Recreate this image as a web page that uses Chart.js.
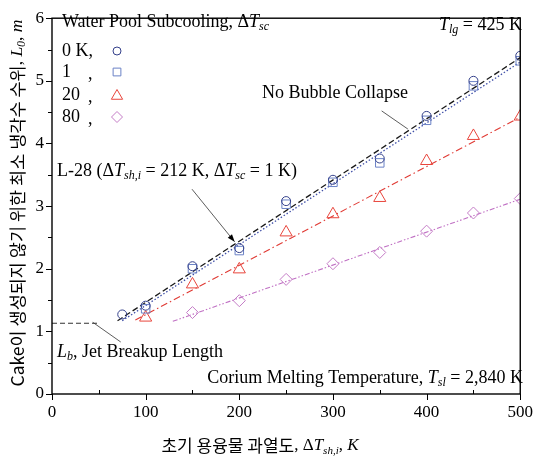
<!DOCTYPE html>
<html>
<head>
<meta charset="utf-8">
<script src="https://cdn.jsdelivr.net/npm/chart.js@4.4.0/dist/chart.umd.min.js"></script>
<style>
  html, body { margin: 0; padding: 0; background: #fff; }
  #wrap { width: 541px; height: 466px; }
</style>
</head>
<body>
<div id="wrap"><canvas id="c" width="541" height="466"></canvas></div>
<script>
const x0K = [75, 100, 150, 200, 250, 300, 350, 400, 450, 500];
const y0K = [1.27, 1.41, 2.04, 2.33, 3.08, 3.42, 3.76, 4.44, 5.00, 5.40];
const x1K = [100, 150, 200, 250, 300, 350, 400, 450, 500];
const y1K = [1.36, 2.00, 2.29, 3.03, 3.38, 3.69, 4.37, 4.92, 5.32];
const x20K = [100, 150, 200, 250, 300, 350, 400, 450, 500];
const y20K = [1.22, 1.75, 1.99, 2.58, 2.87, 3.13, 3.72, 4.12, 4.43];
const x80K = [150, 200, 250, 300, 350, 400, 450, 500];
const y80K = [1.30, 1.49, 1.83, 2.08, 2.26, 2.60, 2.89, 3.12];

// fitted lines (end points)
const fit0KX = [70, 500], fit0KY = [1.17, 5.37];
const fit1KX = [75, 500], fit1KY = [1.17, 5.30];
const fit20KX = [89, 500], fit20KY = [1.18, 4.42];
const fit80KX = [129, 500], fit80KY = [1.16, 3.11];
const breakupX = [0, 50], breakupY = [1.13, 1.13];

// L-28 case marker
const l28X = [195], l28Y = [2.43];

const legendLabels = ['0 K,', '1', '20', '80'];
const xTicks = [0, 100, 200, 300, 400, 500];
const yTicks = [0, 1, 2, 3, 4, 5, 6];

const colors = { c0: '#34408a', c1: '#6b82c6', c20: '#e8453c', c80: '#c47cc6' };

const pts = (xs, ys) => xs.map((x, i) => ({ x: x, y: ys[i] }));

const serif = '"Liberation Serif", "Times New Roman", serif';
const kr = '"Noto Sans CJK KR", sans-serif';
function fontOf(style, size) {
  size = size || 18;
  if (style === 'i') return 'italic ' + size + 'px ' + serif;
  if (style === 's') return 'italic ' + Math.round(size * 0.66) + 'px ' + serif;
  if (style === 'k') return size + 'px ' + kr;
  return size + 'px ' + serif;
}
function richText(ctx, x, y, runs, align, size) {
  let total = 0;
  const widths = runs.map(r => { ctx.font = fontOf(r[1], size); const w = ctx.measureText(r[0]).width; total += w; return w; });
  let cx = align === 'right' ? x - total : align === 'center' ? x - total / 2 : x;
  ctx.textAlign = 'left';
  ctx.textBaseline = 'middle';
  runs.forEach((r, i) => {
    ctx.font = fontOf(r[1], size);
    ctx.fillText(r[0], cx, y + (r[1] === 's' ? 5 : 0));
    cx += widths[i];
  });
}

const decor = {
  id: 'decor',
  afterDraw(chart) {
    const ctx = chart.ctx, a = chart.chartArea;
    const xs = chart.scales.x, ys = chart.scales.y;
    const X = v => xs.getPixelForValue(v), Y = v => ys.getPixelForValue(v);
    ctx.save();
    ctx.fillStyle = '#000';
    ctx.strokeStyle = '#000';

    // frame
    ctx.lineWidth = 1.4;
    ctx.strokeRect(a.left, a.top, a.right - a.left, a.bottom - a.top);

    // ticks
    ctx.lineWidth = 1;
    ctx.beginPath();
    for (let v = 0; v <= 500; v += 50) {
      const p = Math.round(X(v)) + 0.5;
      ctx.moveTo(p, a.bottom);
      ctx.lineTo(p, v % 100 === 0 ? a.bottom + 6 : a.bottom - 4);
    }
    for (let v = 0; v <= 6; v += 0.5) {
      const p = Math.round(Y(v)) + 0.5;
      ctx.moveTo(a.left, p);
      ctx.lineTo(Number.isInteger(v) ? a.left - 6 : a.left - 4, p);
    }
    ctx.stroke();

    // legend block
    richText(ctx, 62, 22, [['Water Pool Subcooling, Δ', 'r'], ['T', 'i'], ['sc', 's']], 'left');
    const rowY = [51, 72, 95, 117];
    const styles = ['circle', 'rect', 'triangle', 'rectRot'];
    const radii = [4, 5.5, 6.5, 5.5];
    const cols = [colors.c0, colors.c1, colors.c20, colors.c80];
    legendLabels.forEach((t, i) => {
      ctx.fillStyle = '#000';
      richText(ctx, 62, rowY[i], [[t, 'r']], 'left');
      if (i > 0) richText(ctx, 88, rowY[i] + 2, [[',', 'r']], 'left');
      ctx.strokeStyle = cols[i];
      ctx.fillStyle = 'rgba(0,0,0,0)';
      ctx.lineWidth = 1;
      Chart.helpers.drawPoint(ctx, { pointStyle: styles[i], radius: radii[i], borderWidth: 1 }, 117, rowY[i] + (i === 2 ? 1 : 0));
    });

    ctx.fillStyle = '#000';
    ctx.strokeStyle = '#000';
    richText(ctx, 522, 25, [['T', 'i'], ['lg', 's'], [' = 425 K', 'r']], 'right');
    richText(ctx, 523, 378, [['Corium Melting Temperature, ', 'r'], ['T', 'i'], ['sl', 's'], [' = 2,840 K', 'r']], 'right');
    richText(ctx, 262, 93, [['No Bubble Collapse', 'r']], 'left');
    richText(ctx, 57, 171, [['L-28 (Δ', 'r'], ['T', 'i'], ['sh,i', 's'], [' = 212 K, Δ', 'r'], ['T', 'i'], ['sc', 's'], [' = 1 K)', 'r']], 'left');
    richText(ctx, 57, 352, [['L', 'i'], ['b', 's'], [', Jet Breakup Length', 'r']], 'left');

    // leader lines
    ctx.lineWidth = 0.8;
    ctx.strokeStyle = '#333';
    ctx.beginPath();
    ctx.moveTo(X(352), Y(4.52)); ctx.lineTo(X(380), Y(4.23));
    ctx.moveTo(X(43.5), Y(1.145)); ctx.lineTo(X(73.4), Y(0.83));
    const ex = X(l28X[0]), ey = Y(l28Y[0]);
    const sx = X(149.5), sy = Y(3.27);
    ctx.moveTo(sx, sy); ctx.lineTo(ex, ey);
    ctx.stroke();
    // arrow head
    const ang = Math.atan2(ey - sy, ex - sx);
    ctx.fillStyle = '#000';
    ctx.beginPath();
    ctx.moveTo(ex, ey);
    ctx.lineTo(ex - 8 * Math.cos(ang - 0.35), ey - 8 * Math.sin(ang - 0.35));
    ctx.lineTo(ex - 8 * Math.cos(ang + 0.35), ey - 8 * Math.sin(ang + 0.35));
    ctx.closePath();
    ctx.fill();

    // axis titles
    richText(ctx, 260, 446, [['초기 용융물 과열도', 'k'], [', Δ', 'r'], ['T', 'i'], ['sh,i', 's'], [', ', 'r'], ['K', 'i']], 'center', 17);
    ctx.save();
    ctx.translate(17, 203);
    ctx.rotate(-Math.PI / 2);
    richText(ctx, 0, 0, [['Cake이 생성되지 않기 위한 최소 냉각수 수위', 'k'], [', ', 'r'], ['L', 'i'], ['0', 's'], [', ', 'r'], ['m', 'i']], 'center', 17.5);
    ctx.restore();

    ctx.restore();
  }
};

const lineDs = (xs, ys, color, dash, width) => ({
  type: 'line', data: pts(xs, ys), borderColor: color, borderWidth: width || 1.2,
  borderDash: dash, pointRadius: 0, fill: false, showLine: true, order: 2
});
const pointDs = (xs, ys, color, style, r) => ({
  type: 'scatter', data: pts(xs, ys), borderColor: color, backgroundColor: 'rgba(0,0,0,0)',
  pointStyle: style, pointRadius: r, pointBorderWidth: 1, showLine: false, order: 1
});

new Chart(document.getElementById('c'), {
  type: 'scatter',
  data: {
    datasets: [
      lineDs(fit0KX, fit0KY, '#1a1a1a', [6, 3], 1.3),
      lineDs(fit1KX, fit1KY, '#4050a8', [1.5, 2], 1.3),
      lineDs(fit20KX, fit20KY, '#e03a34', [7, 3, 1.5, 3], 1.1),
      lineDs(fit80KX, fit80KY, '#c070c4', [5, 2, 1.5, 2, 1.5, 2], 1.1),
      lineDs(breakupX, breakupY, '#333', [5, 3], 1.1),
      pointDs(x0K, y0K, colors.c0, 'circle', 4.5),
      pointDs(x1K, y1K, colors.c1, 'rect', 6),
      pointDs(x20K, y20K, colors.c20, 'triangle', 7),
      pointDs(x80K, y80K, colors.c80, 'rectRot', 6)
    ]
  },
  options: {
    responsive: false,
    animation: false,
    layout: { padding: { top: 10, right: 14, left: 0, bottom: 0 } },
    plugins: { legend: { display: false }, tooltip: { enabled: false } },
    scales: {
      x: {
        type: 'linear', min: 0, max: 500,
        afterFit: s => { s.height = 72; },
        afterBuildTicks: s => { s.ticks = xTicks.map(v => ({ value: v })); },
        grid: { display: false, drawTicks: false },
        border: { display: false },
        ticks: { padding: 8, color: '#000', font: { family: serif, size: 17 }, maxRotation: 0 }
      },
      y: {
        type: 'linear', min: 0, max: 6,
        afterFit: s => { s.width = 52; },
        afterBuildTicks: s => { s.ticks = yTicks.map(v => ({ value: v })); },
        grid: { display: false, drawTicks: false },
        border: { display: false },
        ticks: { padding: 8, color: '#000', font: { family: serif, size: 17 } }
      }
    }
  },
  plugins: [decor]
});
</script>
</body>
</html>
